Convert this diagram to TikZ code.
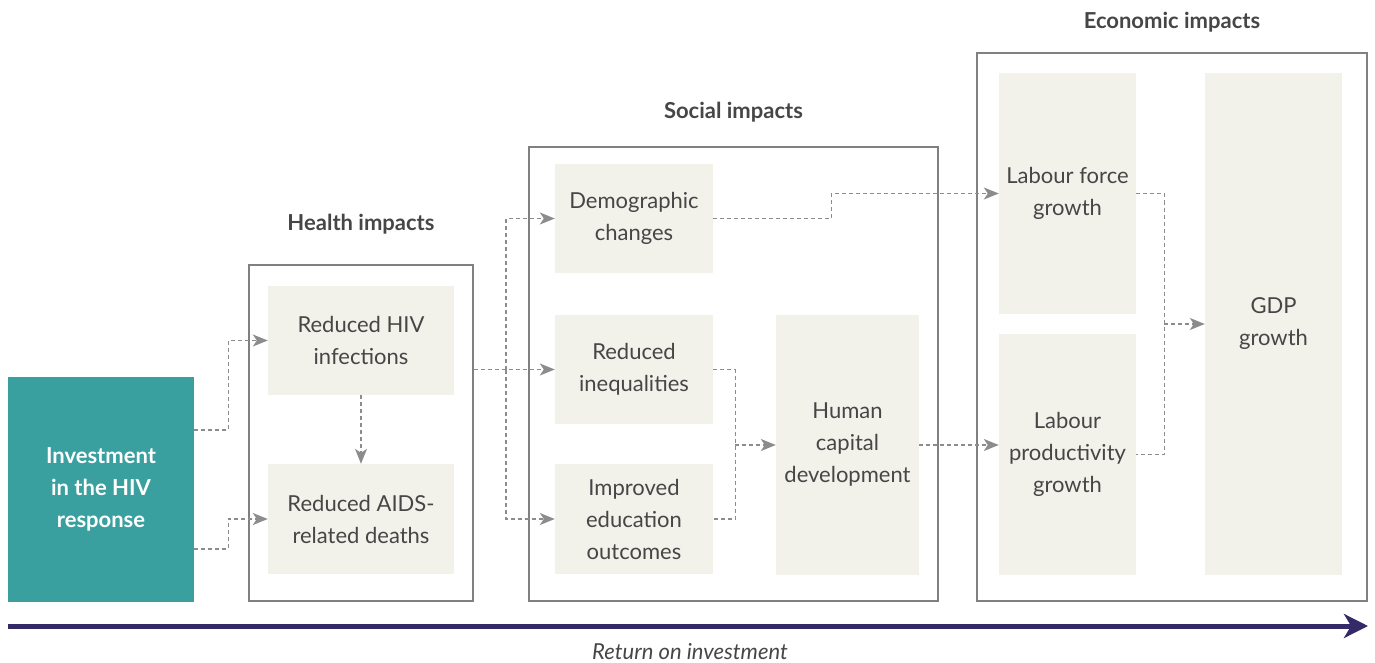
\documentclass[tikz,border=0pt]{standalone}
\usepackage{fontspec}
\setmainfont{Lato}
\usetikzlibrary{arrows.meta,positioning}
\definecolor{teal}{RGB}{58,160,159}
\definecolor{boxfill}{RGB}{242,241,234}
\definecolor{txt}{RGB}{70,70,70}
\definecolor{framecol}{RGB}{128,128,128}
\definecolor{flowcol}{RGB}{140,140,140}
\definecolor{navy}{RGB}{52,42,104}
\begin{document}
\begin{tikzpicture}[x=1pt, y=-1pt,
    every node/.style={font=\fontsize{22}{32}\selectfont, text=txt, align=center, inner sep=0pt},
    impact/.style={fill=boxfill, minimum width=#1},
    impact/.default=158,
    frame/.style={draw=framecol, line width=1.4pt},
    title/.style={font=\fontsize{22}{32}\selectfont\bfseries},
    flow/.style={draw=flowcol, line width=1.4pt, dash pattern=on 4pt off 3pt, -{Stealth[length=15pt,width=12pt,inset=4pt]}},
    link/.style={draw=flowcol, line width=1.4pt, dash pattern=on 4pt off 3pt}]
  \useasboundingbox (0,0) rectangle (1375,663);
  \node (invest) [fill=teal, minimum width=186, minimum height=225, text=white,
        font=\fontsize{22}{32}\selectfont\bfseries] at (101,489.5) {Investment\\in the HIV\\response};
  \node (hframe) [frame, minimum width=224, minimum height=336] at (361,433) {};
  \node (sframe) [frame, minimum width=409, minimum height=454] at (733.5,374) {};
  \node (eframe) [frame, minimum width=390, minimum height=548] at (1172,327) {};
  \node (htitle) [title] at (361,224) {Health impacts};
  \node (stitle) [title] at (733.5,112) {Social impacts};
  \node (etitle) [title] at (1172,22) {Economic impacts};
  \node (hiv) [impact=186, minimum height=109] at (361,340.5) {Reduced HIV\\infections};
  \node (aids) [impact=186, minimum height=110] at (361,519) {Reduced AIDS-\\related deaths};
  \node (demo) [impact, minimum height=109] at (634,218.5) {Demographic\\changes};
  \node (ineq) [impact, minimum height=109] at (634,369.5) {Reduced\\inequalities};
  \node (edu) [impact, minimum height=110] at (634,519) {Improved\\education\\outcomes};
  \node (human) [impact=143, minimum height=260] at (847.5,445) {Human\\capital\\development};
  \node (lforce) [impact=137, minimum height=241] at (1067.5,193.5) {Labour force\\growth};
  \node (lprod) [impact=137, minimum height=241] at (1067.5,454.5) {Labour\\productivity\\growth};
  \node (gdp) [impact=137, minimum height=502] at (1273.5,324) {GDP\\growth};
  \coordinate (hsplit) at (506,369.5);
  \coordinate (roistart) at (8,626);
  \coordinate (roiend) at (1368,626);
  \draw[flow] ([yshift=59.5pt]invest.east) -- ++(34,0) |- (hiv.west);
  \draw[flow] ([yshift=-59.5pt]invest.east) -- ++(34,0) |- (aids.west);
  \draw[flow] (hiv.south) -- (aids.north);
  \draw[flow] (hframe.east |- ineq.west) -- (ineq.west);
  \draw[flow] (hsplit) |- (demo.west);
  \draw[flow] (hsplit) |- (edu.west);
  \draw[flow] (demo.east) -- ++(118,0) |- (lforce.west);
  \draw[link] (ineq.east) -- ++(22,0) |- (edu.east);
  \draw[flow] ([xshift=-41pt]human.west) -- (human.west);
  \draw[flow] (human.east) -- (human.east -| lprod.west);
  \draw[link] (lforce.east) -- ++(28,0) |- (lprod.east);
  \draw[flow] ([xshift=-41pt]gdp.west) -- (gdp.west);
  \draw[navy, line width=5pt, -{Stealth[length=24pt,width=24pt,inset=7pt]}] (roistart) -- (roiend);
  \node (roi) [font=\fontsize{22}{32}\selectfont\itshape] at (690,652) {Return on investment};
\end{tikzpicture}
\end{document}
